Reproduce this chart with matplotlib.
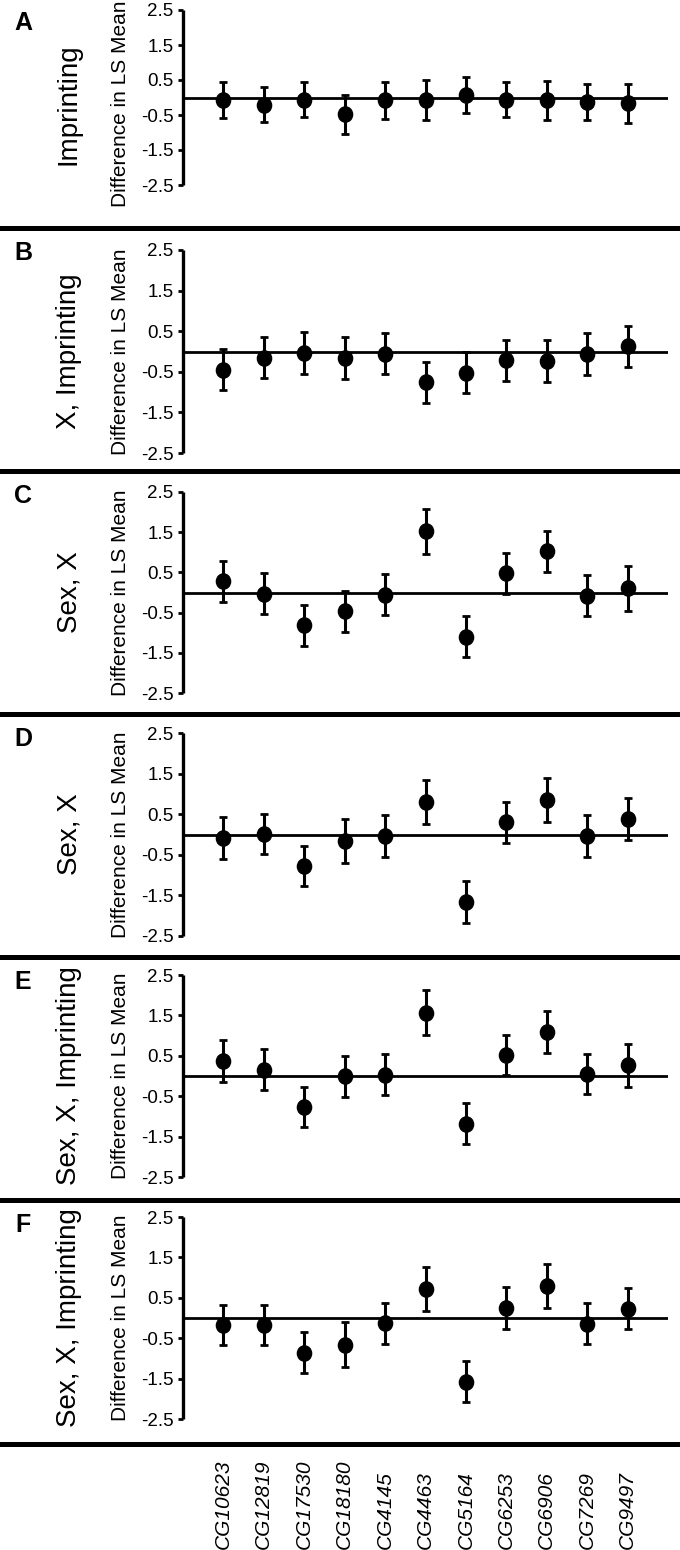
import numpy as np
import matplotlib
matplotlib.use("Agg")
import matplotlib.pyplot as plt
from matplotlib.lines import Line2D
from matplotlib.path import Path
from matplotlib.transforms import Affine2D, blended_transform_factory

plt.rcParams['font.family'] = ['Liberation Sans', 'DejaVu Sans']

# genes on the x axis
genes = ["CG10623", "CG12819", "CG17530", "CG18180", "CG4145", "CG4463",
         "CG5164", "CG6253", "CG6906", "CG7269", "CG9497"]

# difference in LS mean and half-width of the error bar, one pair per panel
a_mean = [-0.08, -0.20, -0.06, -0.48, -0.08, -0.07, 0.08, -0.06, -0.08, -0.12, -0.16]
a_err = [0.51, 0.51, 0.51, 0.55, 0.52, 0.58, 0.51, 0.51, 0.55, 0.51, 0.56]
b_mean = [-0.45, -0.15, -0.04, -0.16, -0.05, -0.76, -0.52, -0.22, -0.23, -0.06, 0.13]
b_err = [0.51, 0.51, 0.51, 0.51, 0.51, 0.51, 0.50, 0.51, 0.51, 0.51, 0.50]
c_mean = [0.28, -0.03, -0.82, -0.47, -0.05, 1.52, -1.10, 0.48, 1.02, -0.08, 0.10]
c_err = [0.51, 0.51, 0.50, 0.51, 0.51, 0.55, 0.51, 0.51, 0.51, 0.51, 0.55]
d_mean = [-0.09, 0.01, -0.78, -0.16, -0.04, 0.80, -1.66, 0.30, 0.85, -0.04, 0.38]
d_err = [0.51, 0.50, 0.50, 0.53, 0.51, 0.55, 0.51, 0.51, 0.55, 0.51, 0.51]
e_mean = [0.37, 0.16, -0.76, -0.01, 0.03, 1.57, -1.18, 0.52, 1.09, 0.05, 0.26]
e_err = [0.51, 0.51, 0.50, 0.51, 0.51, 0.55, 0.51, 0.49, 0.51, 0.50, 0.54]
f_mean = [-0.18, -0.18, -0.86, -0.66, -0.13, 0.72, -1.58, 0.25, 0.79, -0.14, 0.23]
f_err = [0.50, 0.50, 0.51, 0.55, 0.51, 0.54, 0.51, 0.51, 0.55, 0.50, 0.51]

letters = ["A", "B", "C", "D", "E", "F"]
titles = ["Imprinting", "X, Imprinting", "Sex, X", "Sex, X",
          "Sex, X, Imprinting", "Sex, X, Imprinting"]
means = [a_mean, b_mean, c_mean, d_mean, e_mean, f_mean]
errs = [a_err, b_err, c_err, d_err, e_err, f_err]

yticks = [2.5, 1.5, 0.5, -0.5, -1.5, -2.5]
ytick_labels = ["2.5", "1.5", "0.5", "-0.5", "-1.5", "-2.5"]

# layout in pixels (figure is 680 x 1550)
W, H = 680, 1550
ax_top = [10, 250, 492, 733, 975, 1217]
ax_bot = [185, 453, 693, 936, 1177, 1419]
label_mid = [104, 351.5, 592.5, 834.5, 1076, 1318]
seps = [228, 471, 714, 957, 1200, 1444]
ax_left, ax_right = 183, 668

fig = plt.figure(figsize=(6.8, 15.5), dpi=100)

x = np.arange(len(genes))
dot = Path.unit_circle().transformed(Affine2D().scale(0.93, 1.0))

for k in range(6):
    top, bot = ax_top[k], ax_bot[k]
    ax = fig.add_axes([ax_left / W, 1 - bot / H, (ax_right - ax_left) / W, (bot - top) / H])
    ax.set_xlim(-1, 11)
    ax.set_ylim(-2.5, 2.5)
    ax.axhline(0, color='black', lw=2, zorder=1)
    ax.errorbar(x, means[k], yerr=errs[k], fmt='none', ecolor='black',
                elinewidth=2.2, capsize=2.6, capthick=2, zorder=2)
    ax.plot(x, means[k], linestyle='none', marker=dot, markersize=11,
            color='black', zorder=3)

    for side in ['top', 'right', 'bottom']:
        ax.spines[side].set_visible(False)
    ax.spines['left'].set_linewidth(2.4)
    ax.spines['left'].set_capstyle('butt')
    ax.set_xticks([])
    ax.set_yticks(yticks)
    ax.set_yticklabels(ytick_labels, fontsize=13.5)
    ax.tick_params(axis='y', direction='out', length=3.5, width=2, pad=3.5)
    ax.patch.set_visible(False)

    fig.text(120 / W, 1 - label_mid[k] / H, "Difference in LS Mean", rotation=90,
             ha='center', va='center', fontsize=15)
    fig.text(69 / W, 1 - label_mid[k] / H, titles[k], rotation=90,
             ha='center', va='center', fontsize=20)
    letter_y = 23 if k == 0 else seps[k - 1] + 25
    fig.text(23 / W, 1 - letter_y / H, letters[k], ha='center', va='center',
             fontsize=18, fontweight='bold')

    fig.add_artist(Line2D([0, 1], [1 - seps[k] / H] * 2, transform=fig.transFigure,
                          color='black', lw=3.6))

# gene names under the last panel
trans = blended_transform_factory(ax.transData, fig.transFigure)
for xi, g in zip(x, genes):
    ax.text(xi, 1 - 1549 / H, g, transform=trans, rotation=90, ha='center',
            va='bottom', fontsize=15, style='italic')

fig.savefig("out.png", dpi=100)
